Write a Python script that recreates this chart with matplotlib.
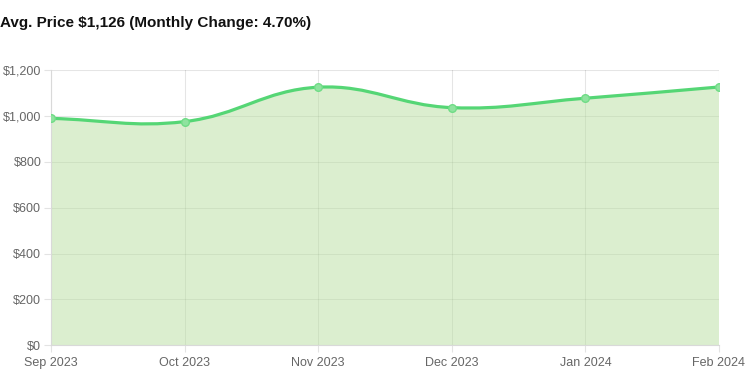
import numpy as np
import matplotlib
matplotlib.use("Agg")
import matplotlib.pyplot as plt
from matplotlib.path import Path
from matplotlib.patches import PathPatch
from matplotlib.ticker import FuncFormatter

plt.rcParams['font.family'] = ['Liberation Sans', 'DejaVu Sans']

months = ['Sep 2023', 'Oct 2023', 'Nov 2023', 'Dec 2023', 'Jan 2024', 'Feb 2024']
avg_price = [989, 975, 1125, 1036, 1077, 1126]
y_ticks = [0, 200, 400, 600, 800, 1000, 1200]
title = 'Avg. Price $1,126 (Monthly Change: 4.70%)'

line_color = '#55d675'
fill_color = (185 / 255, 223 / 255, 161 / 255, 0.5)
tick_color = '#666666'

W, H = 748, 374
fig = plt.figure(figsize=(W / 100, H / 100), dpi=100)
ax = fig.add_axes([51 / W, (H - 345.3) / H, (719 - 51) / W, (345.3 - 70) / H])

x = np.arange(len(months))
ax.set_xlim(0, len(months) - 1)
ax.set_ylim(0, 1200)

# chart.js style bezier (tension 0.4), control points computed in pixel space
fig.canvas.draw()
pts = ax.transData.transform(np.column_stack([x, avg_price]))
t = 0.4
ctrl_prev, ctrl_next = [], []
n = len(pts)
for i in range(n):
    p0 = pts[i - 1] if i > 0 else pts[i]
    p1 = pts[i]
    p2 = pts[i + 1] if i < n - 1 else pts[i]
    d01 = np.hypot(*(p1 - p0))
    d12 = np.hypot(*(p2 - p1))
    s01 = d01 / (d01 + d12) if d01 + d12 else 0
    s12 = d12 / (d01 + d12) if d01 + d12 else 0
    ctrl_prev.append(p1 - t * s01 * (p2 - p0))
    ctrl_next.append(p1 + t * s12 * (p2 - p0))

verts = [pts[0]]
codes = [Path.MOVETO]
for i in range(n - 1):
    verts += [ctrl_next[i], ctrl_prev[i + 1], pts[i + 1]]
    codes += [Path.CURVE4] * 3
inv = ax.transData.inverted()
verts_data = inv.transform(np.array(verts))

line_path = Path(verts_data, codes)
fill_verts = np.vstack([verts_data, [[x[-1], 0], [x[0], 0], verts_data[0]]])
fill_codes = codes + [Path.LINETO, Path.LINETO, Path.CLOSEPOLY]
ax.add_patch(PathPatch(Path(fill_verts, fill_codes), facecolor=fill_color,
                       edgecolor='none', zorder=1))
ax.add_patch(PathPatch(line_path, facecolor='none', edgecolor=line_color,
                       lw=2.3, zorder=3, capstyle='round', joinstyle='round'))
ax.plot(x, avg_price, 'o', ms=5.5, mfc='#8fe39f', mec='#6fdc86', mew=1, zorder=4)

ax.set_xticks(x)
ax.set_xticklabels(months)
ax.set_yticks(y_ticks)
ax.yaxis.set_major_formatter(FuncFormatter(lambda v, p: '${:,.0f}'.format(v)))
ax.set_axisbelow(True)
ax.grid(True, color='black', alpha=0.1, lw=0.8)
for s in ax.spines.values():
    s.set_visible(False)
ax.spines['bottom'].set_visible(True)
ax.spines['left'].set_visible(True)
ax.spines['bottom'].set_color('#d9d9d9')
ax.spines['left'].set_color('#d9d9d9')
ax.tick_params(axis='both', colors='#e3e3e3', labelcolor=tick_color,
               labelsize=9, length=5, width=0.8)
ax.tick_params(axis='x', pad=3.5)
ax.tick_params(axis='y', pad=2)

fig.text(0, (H - 27) / H, title, fontsize=11, fontweight='bold',
         ha='left', va='baseline', color='#111111')

fig.savefig('out.png', dpi=100)
